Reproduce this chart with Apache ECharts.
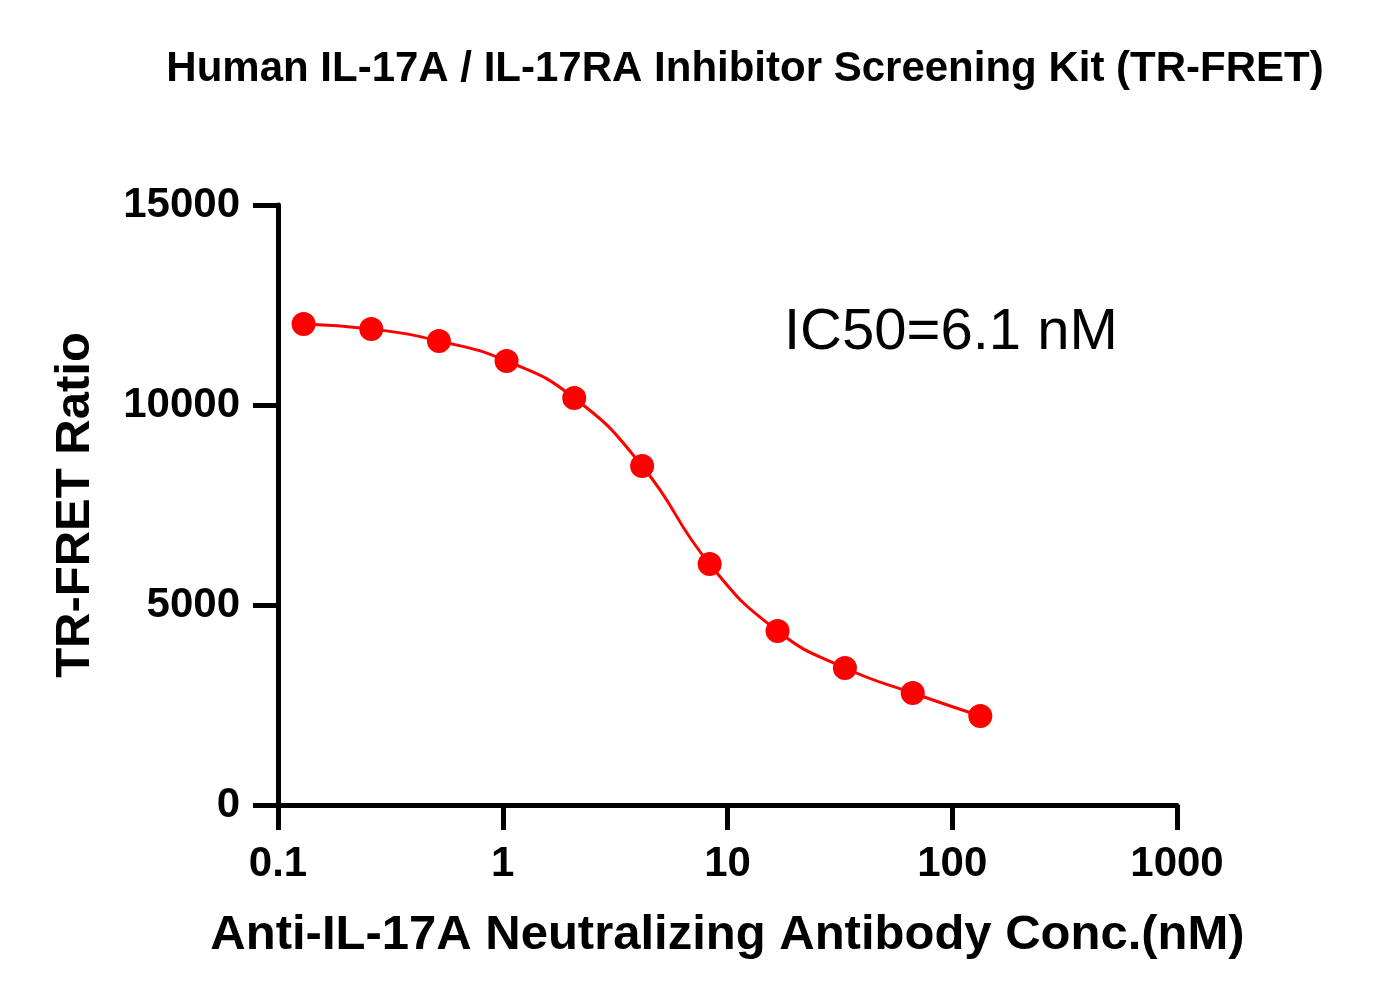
<!DOCTYPE html>
<html>
<head>
<meta charset="utf-8">
<script src="https://cdn.jsdelivr.net/npm/echarts@6/dist/echarts.min.js"></script>
<style>
  html, body { margin: 0; padding: 0; background: #fff; }
  #main { width: 1373px; height: 1006px; }
</style>
</head>
<body>
<div id="main"></div>
<script>
// antibody concentration (nM), 2-fold dilution
const conc = [0.13, 0.26, 0.52, 1.04, 2.08, 4.17, 8.33, 16.7, 33.3, 66.7, 133.3];
// TR-FRET ratio
const ratio = [12025, 11900, 11600, 11100, 10175, 8475, 6025, 4350, 3425, 2800, 2225];
const xTicks = [0.1, 1, 10, 100, 1000];
const yTicks = [0, 5000, 10000, 15000];

const points = conc.map((c, i) => [c, ratio[i]]);

const chart = echarts.init(document.getElementById('main'));
const font = 'Liberation Sans, Arial, sans-serif';

const option = {
  backgroundColor: '#fff',
  animation: false,
  title: {
    text: 'Human IL-17A / IL-17RA Inhibitor Screening Kit (TR-FRET)',
    left: 740,
    textAlign: 'center',
    top: 43,
    textStyle: { fontFamily: font, fontWeight: 'bold', fontSize: 42, color: '#000' }
  },
  grid: { left: 278, right: 196, top: 205, bottom: 201 },
  xAxis: {
    type: 'log',
    logBase: 10,
    min: 0.1,
    max: 1000,
    name: 'Anti-IL-17A Neutralizing Antibody Conc.(nM)',
    nameLocation: 'middle',
    nameGap: 106,
    nameTextStyle: { fontFamily: font, fontWeight: 'bold', fontSize: 49, color: '#000' },
    axisLine: { show: true, lineStyle: { color: '#000', width: 5 } },
    axisTick: { show: true, length: 25, lineStyle: { color: '#000', width: 5 } },
    minorTick: { show: false },
    splitLine: { show: false },
    axisLabel: {
      margin: 38,
      fontFamily: font, fontWeight: 'bold', fontSize: 42, color: '#000',
      formatter: v => xTicks.includes(v) ? String(v) : ''
    }
  },
  yAxis: {
    type: 'value',
    min: 0,
    max: 15000,
    interval: 5000,
    name: 'TR-FRET Ratio',
    nameLocation: 'middle',
    nameGap: 178,
    nameTextStyle: { fontFamily: font, fontWeight: 'bold', fontSize: 49, color: '#000' },
    axisLine: { show: true, lineStyle: { color: '#000', width: 5 } },
    axisTick: { show: true, length: 25, lineStyle: { color: '#000', width: 5 } },
    splitLine: { show: false },
    axisLabel: {
      margin: 38,
      fontFamily: font, fontWeight: 'bold', fontSize: 42, color: '#000',
      formatter: v => yTicks.includes(v) ? String(v) : ''
    }
  },
  graphic: [{
    type: 'text',
    left: 784,
    top: 304,
    style: { text: 'IC50=6.1 nM', font: '58px ' + font, fill: '#000' }
  }],
  series: [
    {
      type: 'line',
      data: points,
      smooth: 0.5,
      showSymbol: false,
      lineStyle: { color: '#ff0000', width: 3 },
      z: 2
    },
    {
      type: 'scatter',
      data: points,
      symbol: 'circle',
      symbolSize: 24,
      itemStyle: { color: '#ff0000', opacity: 1 },
      z: 3
    }
  ]
};

chart.setOption(option);
window.addEventListener('resize', function () {
  chart.resize();
});
</script>
</body>
</html>
